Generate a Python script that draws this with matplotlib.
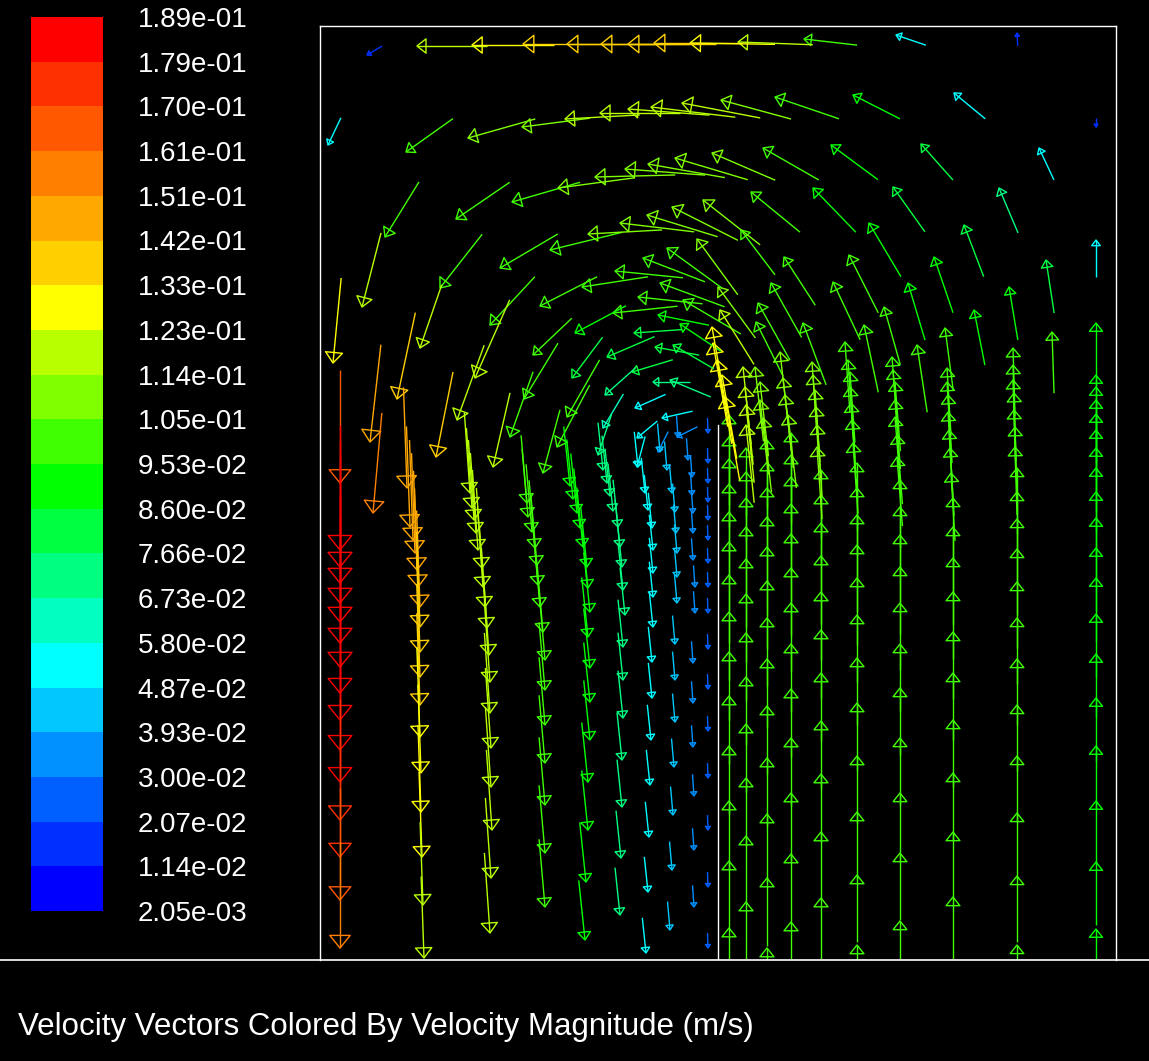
import numpy as np
import matplotlib
matplotlib.use("Agg")
import matplotlib.pyplot as plt
from matplotlib.collections import LineCollection, PolyCollection
from matplotlib.colors import ListedColormap, BoundaryNorm
from matplotlib.cm import ScalarMappable
from matplotlib.lines import Line2D

plt.rcParams['font.family'] = ['Liberation Sans', 'DejaVu Sans']

# colour scale of the legend (top to bottom), m/s
level_labels = ['1.89e-01', '1.79e-01', '1.70e-01', '1.61e-01', '1.51e-01',
                '1.42e-01', '1.33e-01', '1.23e-01', '1.14e-01', '1.05e-01',
                '9.53e-02', '8.60e-02', '7.66e-02', '6.73e-02', '5.80e-02',
                '4.87e-02', '3.93e-02', '3.00e-02', '2.07e-02', '1.14e-02',
                '2.05e-03']
# bands from lowest to highest speed
band_colors = ['#0000ff', '#0030ff', '#0060ff', '#0090ff', '#00c8ff',
               '#00ffff', '#00ffc0', '#00ff80', '#00ff40', '#00ff00',
               '#40ff00', '#80ff00', '#b8ff00', '#ffff00', '#ffd000',
               '#ffa800', '#ff8000', '#ff5800', '#ff3000', '#ff0000']

# domain: 796 mm wide, 934 mm high, baffle at x = 398 mm up to 535 mm
domain_w, domain_h = 796, 934
baffle_x, baffle_top = 398, 535

# single vectors: (x mm, y mm, u m/s, v m/s, |V| m/s), x/y = arrow tip
lid_row = [(47, 905, -0.022, -0.013, 0.02), (97, 914, -0.103, 0.0, 0.115),
           (152, 915, -0.12, 0.0, 0.13), (203, 916, -0.13, 0.0, 0.138),
           (247, 916, -0.13, 0.0, 0.139), (281, 916, -0.13, 0.0, 0.14),
           (308, 916, -0.13, 0.0, 0.139), (334, 917, -0.13, 0.0, 0.137),
           (370, 917, -0.125, 0.002, 0.132), (418, 918, -0.11, 0.004, 0.12),
           (484, 921, -0.078, 0.009, 0.1), (576, 925, -0.044, 0.015, 0.052),
           (697, 927, -0.001, 0.019, 0.015)]

ring_1 = [(8, 815, -0.019, -0.040, 0.05), (86, 808, -0.069, -0.049, 0.1),
          (148, 822, -0.099, -0.028, 0.106), (202, 833, -0.1, -0.013, 0.11),
          (245, 841, -0.11, -0.006, 0.115), (280, 847, -0.118, 0.0, 0.118),
          (308, 851, -0.12, 0.009, 0.118), (331, 853, -0.124, 0.015, 0.118),
          (362, 857, -0.115, 0.022, 0.116), (401, 860, -0.103, 0.028, 0.112),
          (455, 863, -0.094, 0.032, 0.104), (533, 865, -0.069, 0.035, 0.09),
          (634, 867, -0.046, 0.038, 0.055), (776, 833, 0.0, -0.013, 0.012)]

ring_2 = [(65, 723, -0.05, -0.081, 0.1), (136, 741, -0.079, -0.054, 0.1),
          (192, 758, -0.1, -0.029, 0.104), (238, 772, -0.113, -0.015, 0.108),
          (275, 783, -0.118, -0.003, 0.11), (305, 791, -0.118, 0.009, 0.11),
          (328, 796, -0.113, 0.02, 0.11), (355, 802, -0.107, 0.032, 0.11),
          (392, 807, -0.093, 0.04, 0.106), (443, 812, -0.082, 0.047, 0.102),
          (511, 815, -0.069, 0.051, 0.095), (601, 816, -0.047, 0.053, 0.085),
          (719, 812, -0.022, 0.047, 0.055)]

ring_3 = [(42, 653, -0.028, -0.109, 0.118), (120, 672, -0.062, -0.079, 0.1),
          (180, 692, -0.085, -0.05, 0.1), (230, 710, -0.106, -0.026, 0.104),
          (268, 726, -0.109, -0.006, 0.108), (300, 737, -0.109, 0.013, 0.108),
          (327, 745, -0.104, 0.032, 0.108), (352, 753, -0.097, 0.049, 0.108),
          (383, 760, -0.084, 0.066, 0.108), (431, 768, -0.072, 0.059, 0.1),
          (493, 772, -0.063, 0.065, 0.095), (573, 773, -0.047, 0.066, 0.085),
          (679, 772, -0.028, 0.066, 0.075), (776, 720, 0.0, 0.054, 0.055)]

ring_4 = [(13, 597, -0.012, -0.125, 0.13), (77, 561, -0.027, -0.127, 0.135),
          (100, 612, -0.032, -0.093, 0.115), (170, 635, -0.066, -0.071, 0.1),
          (220, 654, -0.084, -0.043, 0.1), (262, 673, -0.097, -0.015, 0.103),
          (295, 689, -0.1, 0.01, 0.103), (323, 702, -0.091, 0.035, 0.103),
          (347, 712, -0.081, 0.059, 0.104), (377, 721, -0.06, 0.082, 0.108),
          (421, 730, -0.05, 0.066, 0.1), (464, 703, -0.046, 0.071, 0.1),
          (549, 737, -0.047, 0.079, 0.095), (644, 735, -0.029, 0.076, 0.085),
          (529, 705, -0.043, 0.085, 0.1), (614, 703, -0.028, 0.082, 0.09),
          (726, 700, -0.012, 0.078, 0.085), (513, 678, -0.04, 0.085, 0.1),
          (588, 677, -0.025, 0.084, 0.095), (689, 673, -0.013, 0.078, 0.09)]

ring_5 = [(438, 657, -0.047, 0.084, 0.104), (483, 637, -0.034, 0.091, 0.104),
          (544, 635, -0.021, 0.099, 0.103), (597, 615, -0.015, 0.099, 0.1),
          (625, 632, -0.012, 0.091, 0.1), (654, 650, -0.016, 0.081, 0.095),
          (732, 628, -0.003, 0.09, 0.098), (564, 653, -0.024, 0.085, 0.1),
          (398, 673, -0.055, 0.075, 0.11), (436, 638, -0.04, 0.08, 0.104),
          (451, 677, -0.045, 0.08, 0.104), (363, 660, -0.085, 0.05, 0.104),
          (340, 677, -0.095, 0.035, 0.104), (318, 663, -0.095, 0.01, 0.1),
          (293, 647, -0.095, -0.01, 0.1), (400, 650, -0.05, 0.08, 0.115)]

inner_arc = [(338, 645, -0.075, 0.015, 0.09), (255, 627, -0.075, -0.04, 0.09),
             (314, 627, -0.07, -0.005, 0.085), (360, 636, -0.06, 0.04, 0.09),
             (353, 615, -0.06, 0.035, 0.085), (335, 613, -0.065, 0.012, 0.085),
             (287, 603, -0.07, -0.03, 0.085), (252, 582, -0.045, -0.06, 0.085),
             (312, 588, -0.06, -0.018, 0.08), (333, 578, -0.055, 0.0, 0.075),
             (350, 580, -0.06, 0.025, 0.075), (285, 565, -0.045, -0.04, 0.075),
             (315, 552, -0.045, -0.02, 0.055), (342, 542, -0.045, -0.01, 0.05),
             (283, 532, -0.03, -0.05, 0.065), (317, 522, -0.03, -0.025, 0.05),
             (357, 523, -0.03, -0.015, 0.035), (278, 505, -0.02, -0.06, 0.07),
             (338, 508, -0.015, -0.03, 0.035), (317, 493, -0.012, -0.045, 0.05)]

left_falls = [(50, 518, -0.016, -0.143, 0.15), (53, 447, -0.013, -0.147, 0.155),
              (116, 503, -0.025, -0.125, 0.135), (137, 540, -0.04, -0.11, 0.12),
              (155, 582, -0.051, -0.115, 0.115), (173, 493, -0.025, -0.109, 0.115),
              (190, 523, -0.034, -0.096, 0.1), (204, 561, -0.05, -0.082, 0.1),
              (213, 605, -0.057, -0.054, 0.1), (223, 487, -0.025, -0.093, 0.1),
              (237, 513, -0.048, -0.091, 0.1), (247, 543, -0.048, -0.084, 0.1)]

# columns of vectors: (x mm, tip heights mm, |V| m/s, direction deg)
falling_columns = [
    (20, [477, 410, 393, 377, 357, 338, 317, 293, 267, 240, 210, 178, 140, 103, 60, 12],
     [0.166, 0.184, 0.186, 0.186, 0.186, 0.186, 0.186, 0.186, 0.185, 0.184,
      0.183, 0.182, 0.178, 0.172, 0.165, 0.156], -90),
    ([87, 90, 93, 95, 97, 98, 100, 100, 100, 100, 100, 100, 101, 101, 102, 103, 104],
     [472, 433, 420, 407, 390, 373, 353, 333, 308, 283, 255, 223, 187, 148, 103, 55, 2],
     [0.148, 0.148, 0.147, 0.147, 0.146, 0.145, 0.142, 0.14, 0.138, 0.137,
      0.135, 0.132, 0.13, 0.128, 0.125, 0.122, 0.12], -88),
    ([150, 152, 154, 156, 158, 162, 163, 165, 167, 169, 170, 170, 171, 171, 172, 171, 170],
     [467, 452, 440, 427, 410, 392, 373, 353, 332, 305, 278, 247, 212, 173, 130, 82, 27],
     0.118, -86),
    ([207, 208, 212, 215, 217, 218, 220, 223, 225, 225, 225, 225, 225, 225, 225],
     [457, 443, 428, 412, 395, 375, 353, 328, 300, 270, 235, 197, 155, 107, 53],
     0.1, -85),
    ([250, 253, 257, 260, 263, 267, 268, 270, 268, 270, 270, 270, 268, 268, 266, 265],
     [474, 461, 447, 432, 413, 393, 372, 348, 323, 292, 258, 220, 178, 130, 78, 20],
     0.088, -84),
    ([283, 287, 290, 293, 298, 300, 302, 303, 305, 303, 303, 303, 302, 302, 301, 300],
     [490, 477, 464, 449, 433, 413, 393, 370, 345, 313, 280, 242, 200, 153, 102, 45],
     0.07, -84),
    ([318, 325, 328, 332, 333, 333, 333, 333, 332, 332, 331, 330, 329, 328, 326],
     [493, 467, 450, 432, 410, 387, 363, 333, 298, 262, 220, 175, 123, 68, 7],
     0.052, -84),
    ([340, 347, 352, 355, 356, 357, 357, 357, 355, 355, 355, 354, 353, 352, 350],
     [508, 490, 467, 448, 427, 407, 383, 357, 316, 280, 238, 193, 145, 90, 30],
     0.042, -85),
    ([358, 368, 372, 372, 373, 373, 373, 375, 375, 373, 373, 373, 374, 374, 374],
     [523, 500, 483, 465, 447, 427, 400, 373, 347, 297, 257, 213, 164, 110, 53],
     0.032, -86),
    (388, [527, 497, 477, 458, 440, 420, 397, 373, 347, 311, 271, 229, 182, 130, 73, 12],
     0.022, -88),
]

rising_columns = [
    (409, [545, 523, 501, 476, 448, 418, 385, 348, 308, 264, 214, 159, 99, 32], 0.1, 90),
    (426, [512, 488, 462, 433, 401, 366, 327, 283, 236, 182, 124, 58], 0.1, 90),
    (447, [520, 498, 472, 443, 413, 379, 342, 301, 254, 202, 146, 82, 12], 0.1, 90),
    (471, [527, 505, 483, 456, 426, 392, 357, 316, 271, 222, 167, 106, 38], 0.1, 90),
    (501, [490, 465, 437, 404, 368, 330, 287, 239, 186, 128, 62], 0.1, 90),
    (537, [497, 472, 445, 415, 382, 345, 302, 257, 204, 148, 85, 15], 0.099, 90),
    (580, [480, 453, 425, 393, 357, 316, 272, 222, 167, 107, 39], 0.098, 90),
    (633, [462, 433, 402, 368, 328, 287, 240, 187, 128, 63], 0.098, 90),
    (697, [492, 468, 441, 411, 378, 342, 301, 255, 204, 147, 84, 15], 0.097, 90),
    (776, [637, 585, 573, 560, 546, 530, 512, 492, 468, 442, 412, 382, 346, 306,
           262, 214, 159, 98, 31], 0.092, 90),
]

rising_tops = [
    ([392, 393, 397, 402, 405], [633, 617, 600, 585, 563], 0.125, 100),
    ([423, 425, 426, 426], [593, 573, 555, 535], 0.115, 96),
    ([435, 440, 440, 443], [593, 578, 560, 542], 0.11, 96.5),
    ([460, 463, 465, 468], [608, 582, 565, 545], 0.108, 96.5),
    ([492, 493, 495, 496, 497, 497], [598, 585, 570, 553, 535, 513], 0.106, 94),
    ([525, 528, 530, 530, 531, 532, 533], [618, 600, 588, 573, 557, 540, 517], 0.104, 94),
    ([572, 573, 575, 575, 575, 577, 577], [603, 590, 578, 560, 543, 525, 503], 0.102, 94.5),
    ([627, 627, 628, 628, 629, 630, 631], [592, 578, 565, 548, 530, 512, 487], 0.1, 93.4),
    ([693, 693, 693, 694, 694, 695, 695], [612, 595, 580, 567, 550, 533, 513], 0.1, 91.7),
]

K = 680.0  # arrow length in mm per m/s

levels = sorted(float(t) for t in level_labels)
cmap = ListedColormap(band_colors)
norm = BoundaryNorm(levels, cmap.N)

shafts, heads, colors = [], [], []


def add_arrow(x, y, u, v, s):
    dx, dy = K * u, K * v
    L = np.hypot(dx, dy)
    if L < 1e-6:
        return
    ex, ey = dx / L, dy / L
    h = 2.0 + 0.1 * L
    w = 1.2 + 0.085 * L
    bx, by = x - h * ex, y - h * ey
    shafts.append([(x - dx, y - dy), (x, y)])
    heads.append([(x, y), (bx - w * ey, by + w * ex), (bx + w * ey, by - w * ex)])
    colors.append(cmap(norm(s)))


for group in [lid_row, ring_1, ring_2, ring_3, ring_4, ring_5, inner_arc, left_falls]:
    for x, y, u, v, s in group:
        add_arrow(x, y, u, v, s)

for xs, ys, sp, ang in falling_columns + rising_columns + rising_tops:
    n = len(ys)
    xs = xs if isinstance(xs, list) else [xs] * n
    sp = sp if isinstance(sp, list) else [sp] * n
    a = np.radians(ang)
    for x, y, s in zip(xs, ys, sp):
        add_arrow(x, y, s * np.cos(a), s * np.sin(a), s)

W, H = 1149, 1061
fig = plt.figure(figsize=(W / 100, H / 100), dpi=100, facecolor='black')

ax = fig.add_axes([320 / W, (H - 960) / H, 796 / W, 934 / H])
ax.set_facecolor('black')
ax.set_xlim(0, domain_w)
ax.set_ylim(0, domain_h)
ax.set_xticks([])
ax.set_yticks([])
for side in ['left', 'top', 'right']:
    ax.spines[side].set_color('white')
    ax.spines[side].set_linewidth(1.0)
ax.spines['bottom'].set_visible(False)

ax.add_collection(LineCollection(shafts, colors=colors, linewidths=1.0))
ax.add_collection(PolyCollection(heads, facecolors='none', edgecolors=colors,
                                 linewidths=1.0, closed=True))
ax.plot([baffle_x, baffle_x], [0, baffle_top], color='white', lw=1.0)

fig.add_artist(Line2D([0, 1], [(H - 960) / H] * 2, color='white', lw=1.2,
                      transform=fig.transFigure))

cax = fig.add_axes([31 / W, (H - 911) / H, 72 / W, 894 / H])
cb = fig.colorbar(ScalarMappable(norm=norm, cmap=cmap), cax=cax, ticks=levels)
cb.outline.set_visible(False)
cb.set_ticklabels(level_labels[::-1])
cax.tick_params(length=0, pad=25, labelsize=20, labelcolor='white')

fig.text(18 / W, 1 - 1027 / H, 'Velocity Vectors Colored By Velocity Magnitude (m/s)',
         color='white', fontsize=22.5, ha='left', va='center')

fig.savefig('out.png', dpi=100, facecolor='black')
